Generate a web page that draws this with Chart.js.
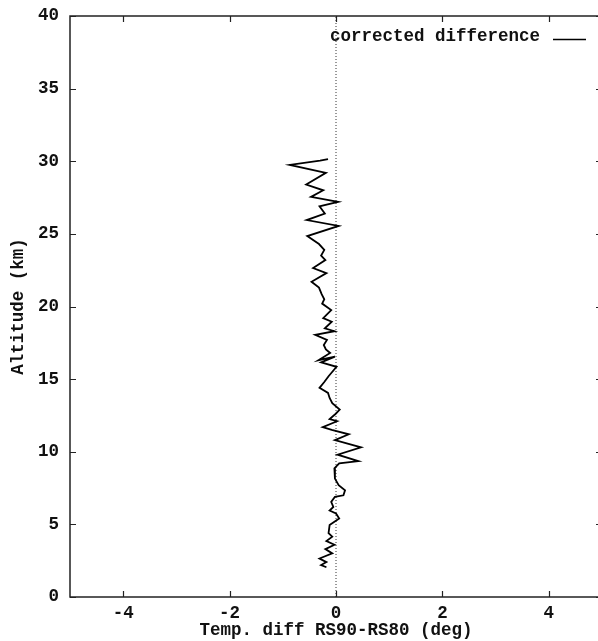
<!DOCTYPE html>
<html>
<head>
<meta charset="utf-8">
<script src="https://cdn.jsdelivr.net/npm/chart.js@4/dist/chart.umd.min.js"></script>
<style>
  html, body { margin: 0; padding: 0; background: #fff; overflow: hidden; }
  canvas { display: block; }
</style>
</head>
<body>
<canvas id="c" width="610" height="641"></canvas>
<script>
// Altitude (km) of each sample, from the top of the profile downward
const altitude = [
  30.15, 30.05, 29.75, 29.2, 28.4, 28.0, 27.55, 27.2, 26.9, 26.4,
  25.95, 25.55, 24.85, 24.3, 23.9, 23.5, 23.2, 22.65, 22.3, 21.7,
  21.3, 20.85, 20.5, 20.2, 19.75, 19.2, 18.95, 18.5, 18.3, 18.05,
  17.7, 17.35, 17.05, 16.8, 16.3, 16.55, 16.15, 15.85, 15.2, 14.8,
  14.4, 14.05, 13.7, 13.35, 12.9, 12.6, 12.25, 12.1, 11.7, 11.5,
  11.2, 10.8, 10.3, 9.8, 9.35, 9.2, 8.85, 8.15, 7.7, 7.35,
  7.0, 6.9, 6.55, 6.2, 5.95, 5.75, 5.4, 4.95, 4.4, 4.15,
  3.85, 3.6, 3.3, 3.0, 2.65, 2.4, 2.2, 2.05
];
// Corrected temperature difference RS90-RS80 (deg) at each altitude
const difference = [
  -0.15, -0.30, -0.87, -0.19, -0.56, -0.24, -0.47, 0.04, -0.31, -0.21,
  -0.55, 0.05, -0.54, -0.32, -0.22, -0.28, -0.20, -0.43, -0.18, -0.46,
  -0.32, -0.27, -0.22, -0.26, -0.09, -0.24, -0.08, -0.21, -0.03, -0.39,
  -0.17, -0.23, -0.19, -0.11, -0.33, -0.02, -0.28, 0.01, -0.14, -0.22,
  -0.31, -0.15, -0.12, -0.07, 0.07, -0.01, -0.12, 0.02, -0.25, -0.08,
  0.24, -0.02, 0.47, 0.03, 0.42, 0.06, -0.03, -0.02, 0.05, 0.17,
  0.14, -0.02, -0.09, -0.05, -0.12, 0.0, 0.06, -0.12, -0.14, -0.07,
  -0.18, -0.03, -0.20, -0.07, -0.31, -0.18, -0.28, -0.18
];
const xTicks = [-4, -2, 0, 2, 4];
const yTicks = [0, 5, 10, 15, 20, 25, 30, 35, 40];
const xRange = [-5, 5];
const yRange = [0, 40];
const seriesLabel = 'corrected difference';

const FONT = '"Liberation Mono", "DejaVu Sans Mono", monospace';
Chart.defaults.font.family = FONT;
Chart.defaults.font.size = 17.5;
Chart.defaults.font.weight = 'bold';
Chart.defaults.color = '#111';

const profile = altitude.map((a, i) => ({ x: difference[i], y: a }));
const zeroLine = yRange.map(a => ({ x: 0, y: a }));

// Frame, inward tick marks and the key in the upper right corner
const framePlugin = {
  id: 'frame',
  afterDraw(chart) {
    const { ctx, chartArea: a, scales: { x, y } } = chart;
    ctx.save();
    ctx.strokeStyle = '#222';
    ctx.lineWidth = 1.5;
    ctx.strokeRect(a.left, a.top, a.right - a.left, a.bottom - a.top);
    ctx.lineWidth = 1.2;
    const t = 6;
    ctx.beginPath();
    xTicks.forEach(v => {
      const px = Math.round(x.getPixelForValue(v)) + 0.5;
      ctx.moveTo(px, a.bottom); ctx.lineTo(px, a.bottom - t);
      ctx.moveTo(px, a.top); ctx.lineTo(px, a.top + t);
    });
    yTicks.forEach(v => {
      const py = Math.round(y.getPixelForValue(v)) + 0.5;
      ctx.moveTo(a.left, py); ctx.lineTo(a.left + t, py);
      ctx.moveTo(a.right, py); ctx.lineTo(a.right - t, py);
    });
    ctx.stroke();

    // key
    ctx.font = 'bold 17.5px ' + FONT;
    ctx.fillStyle = '#111';
    ctx.textAlign = 'right';
    ctx.textBaseline = 'middle';
    ctx.fillText(chart.data.datasets[0].label, a.right - 62, a.top + 21);
    ctx.strokeStyle = '#000';
    ctx.lineWidth = 1.5;
    ctx.beginPath();
    ctx.moveTo(a.right - 49, a.top + 23.5);
    ctx.lineTo(a.right - 16, a.top + 23.5);
    ctx.stroke();
    ctx.restore();
  }
};

new Chart(document.getElementById('c'), {
  type: 'scatter',
  data: {
    datasets: [
      {
        label: seriesLabel,
        data: profile,
        showLine: true,
        borderColor: '#000',
        borderWidth: 1.8,
        pointRadius: 0,
        tension: 0
      },
      {
        label: 'zero',
        data: zeroLine,
        showLine: true,
        borderColor: '#333',
        borderWidth: 1,
        borderDash: [1, 2],
        pointRadius: 0
      }
    ]
  },
  options: {
    responsive: false,
    animation: false,
    devicePixelRatio: 1,
    layout: { padding: { top: 16, right: 8, left: 0, bottom: 0 } },
    plugins: { legend: { display: false }, tooltip: { enabled: false } },
    scales: {
      x: {
        type: 'linear',
        min: xRange[0],
        max: xRange[1],
        afterBuildTicks: s => { s.ticks = xTicks.map(v => ({ value: v })); },
        afterFit: s => { s.height = 44; s.paddingLeft = 0; s.paddingRight = 0; },
        grid: { display: false, drawTicks: false },
        border: { display: false },
        ticks: { padding: 6, color: '#111', callback: v => String(v) },
        title: { display: true, text: 'Temp. diff RS90-RS80 (deg)', color: '#111', padding: 0 }
      },
      y: {
        type: 'linear',
        min: yRange[0],
        max: yRange[1],
        afterBuildTicks: s => { s.ticks = yTicks.map(v => ({ value: v })); },
        afterFit: s => { s.width = 70; s.paddingTop = 0; s.paddingBottom = 0; },
        grid: { display: false, drawTicks: false },
        border: { display: false },
        ticks: { padding: 11, color: '#111', callback: v => String(v) },
        title: { display: true, text: 'Altitude (km)', color: '#111', padding: { top: 8, bottom: 8 } }
      }
    }
  },
  plugins: [framePlugin]
});
</script>
</body>
</html>
